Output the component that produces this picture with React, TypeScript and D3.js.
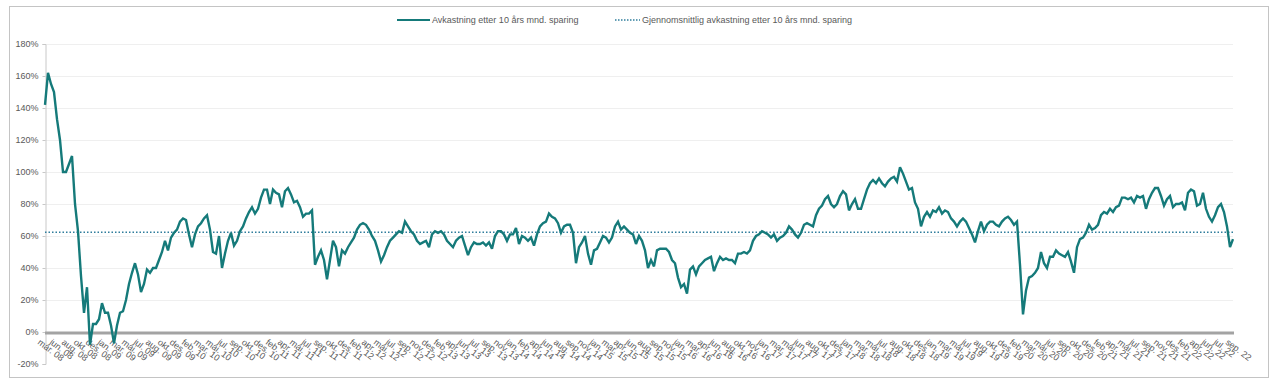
import { useEffect, useRef } from "react";
import * as d3 from "d3";

// Avkastning etter 10 års månedlig sparing (%), lest av bildet, jevnt fordelt i tid
const avk2008_2011 = [
  142, 162, 155, 150, 133, 120, 100, 100, 105, 110,
  80, 63, 35, 12, 28, -8, 5, 5, 8, 18,
  12, 12, 4, -7, 4, 12, 13, 20, 30, 37,
  43, 36, 25, 30, 39, 37, 40, 40, 45, 50,
  57, 51, 59, 62, 64, 69, 71, 70, 61, 53,
  61, 66, 68, 71, 73, 64, 50, 49, 60, 40,
  49, 57, 62, 54, 57, 63, 66, 71, 75, 78,
  74, 77, 84, 89, 89, 80, 89, 87, 86,
];
const avk2011_2014 = [
  78, 88, 90, 86, 81, 82, 78, 72, 74, 74,
  76, 42, 47, 51, 45, 33, 45, 57, 53, 41,
  51, 49, 53, 56, 59, 64, 67, 68, 67, 64,
  60, 57, 51, 44, 48, 53, 57, 59, 61, 63,
  62, 69, 66, 63, 61, 57, 55, 56, 57, 53,
  61, 63, 62, 63, 61, 57, 55, 53, 57, 59,
  60, 54, 48, 53, 56, 55, 55, 56, 54, 56,
  52, 60, 63, 63, 61, 57, 61,
];
const avk2014_2017 = [
  61, 65, 55, 60, 59, 57, 59, 54, 61, 66,
  68, 69, 74, 72, 71, 68, 62, 66, 67, 67,
  62, 43, 53, 56, 60, 49, 42, 51, 52, 56,
  60, 59, 56, 59, 66, 69, 64, 66, 64, 62,
  61, 55, 60, 57, 51, 40, 45, 41, 51, 52,
  52, 52, 50, 45, 43, 34, 28, 30, 24, 39,
  41, 36, 41, 43, 45, 46, 47, 38, 43, 47,
  45, 46, 45, 45, 43, 49, 49, 50,
];
const avk2017_2019 = [
  49, 51, 57, 60, 61, 63, 62, 61, 59, 61,
  57, 59, 60, 62, 66, 64, 61, 59, 62, 67,
  68, 67, 66, 73, 77, 79, 83, 85, 80, 78,
  80, 85, 88, 86, 76, 80, 83, 77, 77, 83,
  89, 93, 95, 93, 96, 93, 91, 94, 96, 97,
  94, 103, 99, 94, 89, 90, 81, 77, 66, 72,
  75, 72, 76, 75, 78, 74, 76, 75, 71, 69,
  66, 69, 71, 69, 65, 61, 56, 63, 69,
];
const avk2019_2022 = [
  63, 67, 69, 69, 67, 66, 69, 71, 72, 70,
  67, 69, 42, 11, 26, 34, 35, 37, 40, 50,
  43, 40, 47, 47, 51, 49, 48, 47, 50, 44,
  37, 53, 58, 59, 62, 67, 64, 65, 67, 73,
  75, 74, 77, 75, 78, 79, 84, 84, 83, 84,
  81, 85, 84, 85, 77, 83, 87, 90, 90, 85,
  79, 83, 85, 78, 80, 80, 81, 76, 87, 89,
  88, 79, 80, 87, 77, 72, 69, 73, 78, 80,
  75, 66, 53, 58,
];
const gjennomsnitt = 62.3;

const yTicks = [-20, 0, 20, 40, 60, 80, 100, 120, 140, 160, 180];

const xLabels = [
  "mar. 08", "jun. 08", "aug. 08", "okt. 08", "des. 08",
  "jan. 09", "mar. 09", "mai. 09", "jul. 09", "aug. 09", "okt. 09", "des. 09",
  "feb. 10", "mar. 10", "mai. 10", "jul. 10", "sep. 10", "okt. 10", "des. 10",
  "feb. 11", "apr. 11", "mai. 11", "jul. 11", "sep. 11", "okt. 11", "des. 11",
  "feb. 12", "apr. 12", "mai. 12", "jul. 12", "sep. 12", "nov. 12", "des. 12",
  "feb. 13", "apr. 13", "jun. 13", "jul. 13", "sep. 13", "nov. 13",
  "jan. 14", "feb. 14", "apr. 14", "jun. 14", "aug. 14", "sep. 14", "nov. 14",
  "jan. 15", "mar. 15", "apr. 15", "jun. 15", "aug. 15", "sep. 15", "nov. 15",
  "jan. 16", "mar. 16", "apr. 16", "jun. 16", "aug. 16", "okt. 16", "nov. 16",
  "jan. 17", "mar. 17", "mai. 17", "jun. 17", "aug. 17", "okt. 17", "des. 17",
  "jan. 18", "mar. 18", "mai. 18", "jul. 18", "aug. 18", "okt. 18", "des. 18",
  "jan. 19", "mar. 19", "mai. 19", "jul. 19", "aug. 19", "okt. 19", "des. 19",
  "feb. 20", "mar. 20", "mai. 20", "jul. 20", "sep. 20", "okt. 20", "des. 20",
  "feb. 21", "apr. 21", "mai. 21", "jul. 21", "sep. 21", "nov. 21", "des. 21",
  "feb. 22", "apr. 22", "jun. 22", "jul. 22", "sep. 22",
];

const legendLabels = [
  "Avkastning etter 10 års mnd. sparing",
  "Gjennomsnittlig avkastning etter 10 års mnd. sparing",
];

const W = 1280;
const H = 385;
const margin = { left: 45, right: 47, top: 44, bottom: 21 };
const LINE_COLOR = "#157a7a";
const AVG_COLOR = "#2f7d9c";
const TEXT_COLOR = "#595959";
const FONT = "'Liberation Sans', Arial, sans-serif";

export default function App() {
  const svgRef = useRef<SVGSVGElement>(null);

  useEffect(() => {
    const values = [
      ...avk2008_2011,
      ...avk2011_2014,
      ...avk2014_2017,
      ...avk2017_2019,
      ...avk2019_2022,
    ];
    const width = W - margin.left - margin.right;
    const height = H - margin.top - margin.bottom;

    const x = d3.scaleLinear().domain([0, values.length - 1]).range([0, width]);
    const y = d3.scaleLinear().domain([-20, 180]).range([height, 0]);
    const xl = d3.scalePoint<string>().domain(xLabels).range([0, width]);

    const svgEl = d3.select(svgRef.current);
    svgEl.selectAll("*").remove();

    // chart border
    svgEl.append("rect")
      .attr("x", 9.5).attr("y", 6.5)
      .attr("width", 1259).attr("height", 371)
      .attr("fill", "#fff")
      .attr("stroke", "#c4c4c4");

    const svg = svgEl.append("g")
      .attr("transform", `translate(${margin.left}, ${margin.top})`);

    // grid lines
    svg.append("g")
      .selectAll("line")
      .data(yTicks.filter((t) => t !== 0 && t !== -20))
      .join("line")
      .attr("x1", 0).attr("x2", width)
      .attr("y1", (d) => y(d) + 0.5).attr("y2", (d) => y(d) + 0.5)
      .attr("stroke", "#efefef");

    // y axis
    const yAxis = d3.axisLeft(y)
      .tickValues(yTicks)
      .tickSize(3)
      .tickPadding(4)
      .tickFormat((v) => `${v}%`);
    const yAxisGroup = svg.append("g").attr("transform", "translate(0.5,0)").call(yAxis);
    yAxisGroup.select(".domain").attr("stroke", "#c8c8c8");
    yAxisGroup.selectAll("line").attr("stroke", "#c8c8c8");
    yAxisGroup.selectAll("text")
      .attr("fill", TEXT_COLOR)
      .attr("font-family", FONT)
      .attr("font-size", 9);

    // zero axis band
    svg.append("line")
      .attr("x1", 0).attr("x2", width + 1)
      .attr("y1", y(0) + 1).attr("y2", y(0) + 1)
      .attr("stroke", "#a3a3a3")
      .attr("stroke-width", 3);

    // x labels
    svg.append("g")
      .selectAll("text")
      .data(xLabels)
      .join("text")
      .attr("transform", (d) => `translate(${(xl(d) ?? 0) - 4}, ${y(0) + 6}) rotate(37)`)
      .attr("dy", "0.75em")
      .attr("fill", TEXT_COLOR)
      .attr("font-family", FONT)
      .attr("font-size", 9)
      .text((d) => d);

    // average line
    svg.append("line")
      .attr("x1", 0).attr("x2", width)
      .attr("y1", y(gjennomsnitt)).attr("y2", y(gjennomsnitt))
      .attr("stroke", AVG_COLOR)
      .attr("stroke-width", 1.5)
      .attr("stroke-dasharray", "1.5,2");

    // main line
    const valueLine = d3.line<number>()
      .x((_, i) => x(i))
      .y((d) => y(d));
    svg.append("path")
      .datum(values)
      .attr("fill", "none")
      .attr("stroke", LINE_COLOR)
      .attr("stroke-width", 2.4)
      .attr("stroke-linejoin", "miter")
      .attr("stroke-miterlimit", 3)
      .attr("d", valueLine);

    // legend
    const legend = svgEl.append("g").attr("transform", "translate(0, 20)");
    legend.append("line")
      .attr("x1", 397).attr("x2", 430).attr("y1", 0).attr("y2", 0)
      .attr("stroke", LINE_COLOR).attr("stroke-width", 2);
    legend.append("text")
      .attr("x", 432).attr("y", 0).attr("dy", "0.35em")
      .attr("fill", TEXT_COLOR).attr("font-family", FONT).attr("font-size", 9)
      .text(legendLabels[0]);
    legend.append("line")
      .attr("x1", 615).attr("x2", 640).attr("y1", 0).attr("y2", 0)
      .attr("stroke", AVG_COLOR).attr("stroke-width", 1.5)
      .attr("stroke-dasharray", "1.5,1.5");
    legend.append("text")
      .attr("x", 642).attr("y", 0).attr("dy", "0.35em")
      .attr("fill", TEXT_COLOR).attr("font-family", FONT).attr("font-size", 9)
      .text(legendLabels[1]);
  }, []);

  return (
    <svg
      ref={svgRef}
      width={W}
      height={H}
      viewBox={`0 0 ${W} ${H}`}
      style={{ position: "absolute", left: 0, top: 0, background: "#fff" }}
    />
  );
}
